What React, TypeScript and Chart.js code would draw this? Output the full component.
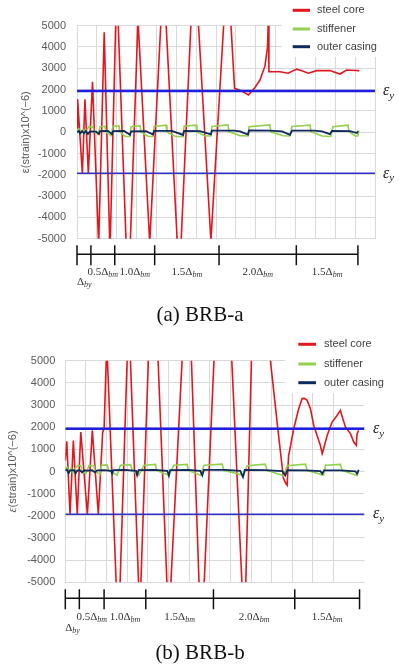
import React, { useEffect, useRef } from 'react';
import { Chart, registerables } from 'chart.js';
Chart.register(...registerables);

// ---------- shared ----------
const EPS_Y = 1930;
const seriesNames = ['steel core', 'stiffener', 'outer casing'];
const seriesColors = ['#e3161d', '#92d050', '#0e2a5c'];
const protoLabels = ['0.5', '1.0', '1.5', '2.0', '1.5'];

// ---------- panel (a) BRB-a ----------
const coreAX = [0, 0.03, 0.27, 0.40, 0.57, 0.78, 1.09, 1.37, 1.66, 2.00, 2.58, 3.07, 3.66, 4.35, 5.15, 5.90, 6.74, 7.57, 7.93, 8.25, 8.63, 8.96, 9.21, 9.46, 9.59, 9.64, 9.66, 10.22, 10.63, 11.06, 11.32, 11.64, 12.06, 12.73, 13.24, 13.57, 14.08, 14.21];
const coreAY = [200, 1550, -1950, 1550, -1950, 2370, -5300, 4690, -5600, 7000, -8000, 5300, -5200, 7500, -7000, 8500, -5100, 8000, 2060, 1950, 1750, 2100, 2450, 3100, 4000, 5600, 2840, 2840, 2770, 2960, 2880, 2770, 2890, 2900, 2730, 2920, 2900, 2880];
const stiffAX = [0, 0.10, 0.20, 0.30, 0.40, 0.55, 0.60, 0.81, 0.86, 1.06, 1.16, 1.41, 1.46, 1.71, 1.81, 2.11, 2.16, 2.42, 2.67, 2.72, 3.17, 3.22, 3.57, 3.83, 3.88, 4.48, 4.53, 4.93, 5.34, 5.39, 5.99, 6.04, 6.44, 6.74, 6.79, 7.60, 7.65, 8.20, 8.61, 8.66, 9.71, 9.76, 10.37, 10.72, 10.82, 11.73, 11.78, 12.33, 12.78, 12.88, 13.64, 13.69, 14.04, 14.14, 14.19];
const stiffAY = [80, 150, -50, 120, -60, 200, 260, 240, 30, -100, 260, 280, 20, -160, 270, 310, 20, -200, -200, 260, 310, 10, -190, -200, 270, 330, 10, -190, -210, 280, 330, 10, -180, -180, 270, 340, 20, -160, -180, 260, 340, 20, -170, -180, 270, 330, 20, -180, -200, 260, 330, 20, -190, -170, 80];
const casingAX = [0, 0.10, 0.15, 0.25, 0.35, 0.45, 0.55, 0.65, 0.96, 1.11, 1.16, 1.56, 1.76, 1.81, 2.37, 2.67, 2.72, 3.47, 3.83, 3.88, 4.78, 5.34, 5.39, 6.19, 6.74, 6.79, 7.90, 8.20, 8.61, 8.66, 9.71, 10.32, 10.72, 10.82, 11.93, 12.33, 12.73, 12.83, 13.74, 14.09, 14.14];
const casingAY = [0, 60, -60, 50, -50, 60, -80, 40, 30, -80, 50, 60, -90, 50, 60, -120, 40, 50, -110, 60, 60, -130, 60, 50, -100, 70, 70, 40, -110, 80, 70, 40, -120, 70, 70, 40, -90, 60, 50, -40, 50];
const protoA = [0, 0.70, 1.90, 3.91, 7.15, 11.04, 14.14];

// ---------- panel (b) BRB-b ----------
const coreBX = [0, 0.07, 0.23, 0.39, 0.58, 0.75, 1.07, 1.31, 1.60, 1.81, 1.88, 2.01, 2.57, 3.07, 3.61, 4.24, 5.01, 5.93, 6.59, 7.63, 8.68, 9.21, 9.65, 9.94, 10.28, 10.57, 10.69, 10.75, 10.82, 11.07, 11.31, 11.48, 11.59, 11.72, 11.88, 12.04, 12.20, 12.36, 12.45, 12.52, 12.69, 12.93, 13.17, 13.33, 13.45, 13.58, 13.82, 13.98, 14.10, 14.14, 14.22];
const coreBY = [500, 1360, -1930, 1400, -1930, 1780, -1930, 1860, -1930, 1750, 1950, 5800, -7500, 7200, -6500, 11000, -7000, 10000, -8000, 14000, -7500, 12000, 8500, 5000, 2100, -300, -550, -620, 700, 1930, 2830, 3290, 3300, 3210, 2830, 2080, 1630, 1180, 810, 1030, 1630, 2230, 2530, 2760, 2380, 2000, 1710, 1330, 1180, 1710, 1860];
const stiffBX = [0, 0.08, 0.18, 0.28, 0.37, 0.52, 0.62, 0.76, 0.81, 1.00, 1.15, 1.39, 1.44, 1.68, 1.75, 2.02, 2.11, 2.51, 2.67, 3.16, 3.24, 3.56, 3.81, 4.37, 4.42, 5.02, 5.26, 5.91, 5.96, 6.55, 6.72, 7.61, 7.67, 8.64, 8.81, 9.69, 9.78, 10.58, 10.75, 11.64, 11.72, 12.52, 12.61, 13.33, 13.42, 14.14, 14.22];
const stiffBY = [130, 200, -50, 150, -60, 200, 280, 250, 20, -100, 270, 260, 0, -120, 280, 300, 50, -170, 280, 310, 50, -170, 280, 320, 50, -170, 280, 320, 50, -170, 280, 330, 50, -170, 260, 330, 50, -190, 260, 330, 50, -170, 280, 320, 50, -180, 50];
const casingBX = [0, 0.08, 0.16, 0.23, 0.42, 0.50, 0.57, 0.71, 0.81, 0.91, 1.10, 1.30, 1.44, 1.54, 1.88, 2.22, 2.27, 2.32, 2.90, 3.43, 3.48, 3.55, 4.35, 4.94, 5.02, 5.08, 5.96, 6.54, 6.64, 6.71, 7.75, 8.48, 8.61, 8.70, 9.69, 10.52, 10.66, 10.76, 11.64, 12.36, 12.45, 12.54, 13.33, 14.06, 14.14, 14.22];
const casingBY = [50, 80, -80, 50, 60, -80, 40, 60, -40, 50, 40, 60, -40, 50, 60, 30, -90, 60, 70, 30, -170, 60, 70, 30, -190, 60, 70, 30, -170, 70, 70, 30, -250, 70, 60, 20, -170, 60, 50, 20, -100, 50, 50, 10, -100, 80];
const protoB = [0, 0.68, 1.88, 3.90, 7.18, 11.12, 14.26];

const SANS = '"Liberation Sans", Arial, sans-serif';
const SERIF = '"Liberation Serif", "Times New Roman", serif';

function pts(xs: number[], ys: number[]) {
  return xs.map((x, i) => ({ x, y: ys[i] }));
}

type Cfg = {
  top: number; caption: string;
  core: [number[], number[]]; stiff: [number[], number[]]; casing: [number[], number[]];
  xMax: number; leftW: number; rightPad: number; topPad: number; bottomH: number; tickPad: number;
  titleX: number; titleEpsItalic: boolean;
  proto: number[]; protoY: number; labelY: number; byY: number; captionY: number;
  legX0: number; legX1: number; legTextX: number; legRows: number[]; boxX: number; boxBottom: number;
  epsX: number;
};

const cfgA: Cfg = {
  top: 0, caption: '(a) BRB-a',
  core: [coreAX, coreAY], stiff: [stiffAX, stiffAY], casing: [casingAX, casingAY],
  xMax: 15, leftW: 77, rightPad: 24, topPad: 25.7, bottomH: 96.3, tickPad: 11,
  titleX: 26, titleEpsItalic: false,
  proto: protoA, protoY: 254.3, labelY: 272.3, byY: 282, captionY: 315,
  legX0: 292.7, legX1: 310, legTextX: 317, legRows: [10.3, 29, 46.7], boxX: 282, boxBottom: 57,
  epsX: 383,
};

const cfgB: Cfg = {
  top: 335, caption: '(b) BRB-b',
  core: [coreBX, coreBY], stiff: [stiffBX, stiffBY], casing: [casingBX, casingBY],
  xMax: 14.5, leftW: 65.3, rightPad: 34.5, topPad: 25.7, bottomH: 87.7, tickPad: 10,
  titleX: 13, titleEpsItalic: true,
  proto: protoB, protoY: 263.3, labelY: 282, byY: 293, captionY: 318,
  legX0: 298.3, legX1: 316, legTextX: 324, legRows: [9.3, 29, 47.7], boxX: 285, boxBottom: 58,
  epsX: 373,
};

function drawSub(ctx: CanvasRenderingContext2D, x: number, y: number, main: string, sub: string,
  mainFont: string, subFont: string, subDy: number, align: 'left' | 'center') {
  ctx.font = mainFont;
  const w1 = ctx.measureText(main).width;
  ctx.font = subFont;
  const w2 = ctx.measureText(sub).width;
  let sx = x;
  if (align === 'center') sx = x - (w1 + w2) / 2;
  ctx.textAlign = 'left';
  ctx.textBaseline = 'middle';
  ctx.font = mainFont;
  ctx.fillText(main, sx, y);
  ctx.font = subFont;
  ctx.fillText(sub, sx + w1, y + subDy);
}

function Panel({ cfg }: { cfg: Cfg }) {
  const ref = useRef<HTMLCanvasElement | null>(null);
  useEffect(() => {
    const canvas = ref.current;
    if (!canvas) return;
    const overlay = {
      id: 'overlay',
      beforeDatasetsDraw(chart: any) {
        const ctx = chart.ctx as CanvasRenderingContext2D;
        ctx.save();
        ctx.fillStyle = '#ffffff';
        ctx.fillRect(cfg.boxX, 0, chart.width - cfg.boxX, cfg.boxBottom);
        ctx.restore();
      },
      afterDraw(chart: any) {
        const ctx = chart.ctx as CanvasRenderingContext2D;
        const ca = chart.chartArea;
        const xs = chart.scales.x;
        const ys = chart.scales.y;
        ctx.save();
        // legend
        seriesNames.forEach((name, i) => {
          const y = cfg.legRows[i];
          ctx.strokeStyle = seriesColors[i];
          ctx.lineWidth = 3;
          ctx.beginPath();
          ctx.moveTo(cfg.legX0, y);
          ctx.lineTo(cfg.legX1, y);
          ctx.stroke();
          ctx.fillStyle = '#404040';
          ctx.font = `11px ${SANS}`;
          ctx.textAlign = 'left';
          ctx.textBaseline = 'middle';
          ctx.fillText(name, cfg.legTextX, y);
        });
        // y-axis title
        ctx.save();
        ctx.translate(cfg.titleX, (ca.top + ca.bottom) / 2);
        ctx.rotate(-Math.PI / 2);
        ctx.fillStyle = '#595959';
        ctx.textBaseline = 'middle';
        if (cfg.titleEpsItalic) {
          const f1 = `italic 13px ${SERIF}`;
          const f2 = `11px ${SANS}`;
          ctx.font = f1; const w1 = ctx.measureText('ε').width;
          ctx.font = f2; const w2 = ctx.measureText('(strain)x10^(−6)').width;
          const sx = -(w1 + w2) / 2;
          ctx.textAlign = 'left';
          ctx.font = f1; ctx.fillText('ε', sx, 0);
          ctx.font = f2; ctx.fillText('(strain)x10^(−6)', sx + w1, 0);
        } else {
          ctx.textAlign = 'center';
          ctx.font = `11px ${SANS}`;
          ctx.fillText('ε(strain)x10^(−6)', 0, 0);
        }
        ctx.restore();
        // epsilon_y labels
        ctx.fillStyle = '#222222';
        [EPS_Y, -EPS_Y].forEach((v) => {
          const y = ys.getPixelForValue(v);
          drawSub(ctx, cfg.epsX, y, 'ε', 'y', `italic 16px ${SERIF}`, `italic 11px ${SERIF}`, 5, 'left');
        });
        // loading protocol axis
        const px = cfg.proto.map((u) => xs.getPixelForValue(u));
        ctx.strokeStyle = '#111111';
        ctx.lineWidth = 1.5;
        ctx.beginPath();
        ctx.moveTo(px[0], cfg.protoY);
        ctx.lineTo(px[px.length - 1], cfg.protoY);
        px.forEach((p) => {
          ctx.moveTo(p, cfg.protoY - 9);
          ctx.lineTo(p, cfg.protoY + 11);
        });
        ctx.stroke();
        ctx.fillStyle = '#333333';
        drawSub(ctx, px[0], cfg.byY, 'Δ', 'by', `11px ${SERIF}`, `italic 8px ${SERIF}`, 3, 'left');
        protoLabels.forEach((lab, i) => {
          const cx = (px[i + 1] + px[i + 2]) / 2;
          drawSub(ctx, cx, cfg.labelY, `${lab}Δ`, 'bm', `11px ${SERIF}`, `italic 8px ${SERIF}`, 3, 'center');
        });
        // caption
        ctx.fillStyle = '#111111';
        ctx.font = `21px ${SERIF}`;
        ctx.textAlign = 'center';
        ctx.textBaseline = 'middle';
        ctx.fillText(cfg.caption, 200, cfg.captionY);
        ctx.restore();
      },
    };

    const chart = new Chart(canvas, {
      type: 'line',
      data: {
        datasets: [
          { label: seriesNames[0], data: pts(cfg.core[0], cfg.core[1]), borderColor: seriesColors[0], borderWidth: 1.6, pointRadius: 0, tension: 0, order: 4 },
          { label: seriesNames[1], data: pts(cfg.stiff[0], cfg.stiff[1]), borderColor: seriesColors[1], borderWidth: 1.6, pointRadius: 0, tension: 0, order: 3 },
          { label: seriesNames[2], data: pts(cfg.casing[0], cfg.casing[1]), borderColor: seriesColors[2], borderWidth: 1.8, pointRadius: 0, tension: 0, order: 2 },
          { label: 'εy+', data: [{ x: 0, y: EPS_Y }, { x: cfg.xMax, y: EPS_Y }], borderColor: '#1f1fe0', borderWidth: 2.5, pointRadius: 0, order: 1 },
          { label: 'εy-', data: [{ x: 0, y: -EPS_Y }, { x: cfg.xMax, y: -EPS_Y }], borderColor: '#3030c8', borderWidth: 1.6, pointRadius: 0, order: 0 },
        ],
      },
      options: {
        animation: false,
        responsive: false,
        maintainAspectRatio: false,
        devicePixelRatio: 1,
        layout: { padding: { top: cfg.topPad, right: cfg.rightPad, bottom: 0, left: 0 } },
        plugins: { legend: { display: false }, tooltip: { enabled: false }, title: { display: false } },
        scales: {
          x: {
            type: 'linear', min: 0, max: cfg.xMax,
            ticks: { display: false, stepSize: 1 },
            grid: { color: '#d9d9d9', drawTicks: false, lineWidth: 1 },
            border: { display: false },
            afterBuildTicks: (s: any) => { s.ticks = s.ticks.filter((t: any) => Number.isInteger(t.value)); },
            afterFit: (s: any) => { s.height = cfg.bottomH; s.paddingLeft = 0; s.paddingRight = 0; },
          },
          y: {
            type: 'linear', min: -5000, max: 5000,
            ticks: { stepSize: 1000, padding: cfg.tickPad, color: '#595959', font: { family: SANS, size: 11 }, callback: (v: any) => String(v) },
            grid: { color: '#d9d9d9', drawTicks: false, lineWidth: 1 },
            border: { display: false },
            afterFit: (s: any) => { s.width = cfg.leftW; s.paddingTop = 0; s.paddingBottom = 0; },
          },
        },
      } as any,
      plugins: [overlay],
    });
    return () => chart.destroy();
  }, [cfg]);
  return (
    <canvas
      ref={ref}
      width={399}
      height={335}
      style={{ position: 'absolute', left: 0, top: cfg.top, width: 399, height: 335, display: 'block' }}
    />
  );
}

export default function App() {
  return (
    <div style={{ position: 'absolute', left: 0, top: 0, width: 399, height: 670, background: '#ffffff' }}>
      <Panel cfg={cfgA} />
      <Panel cfg={cfgB} />
    </div>
  );
}
